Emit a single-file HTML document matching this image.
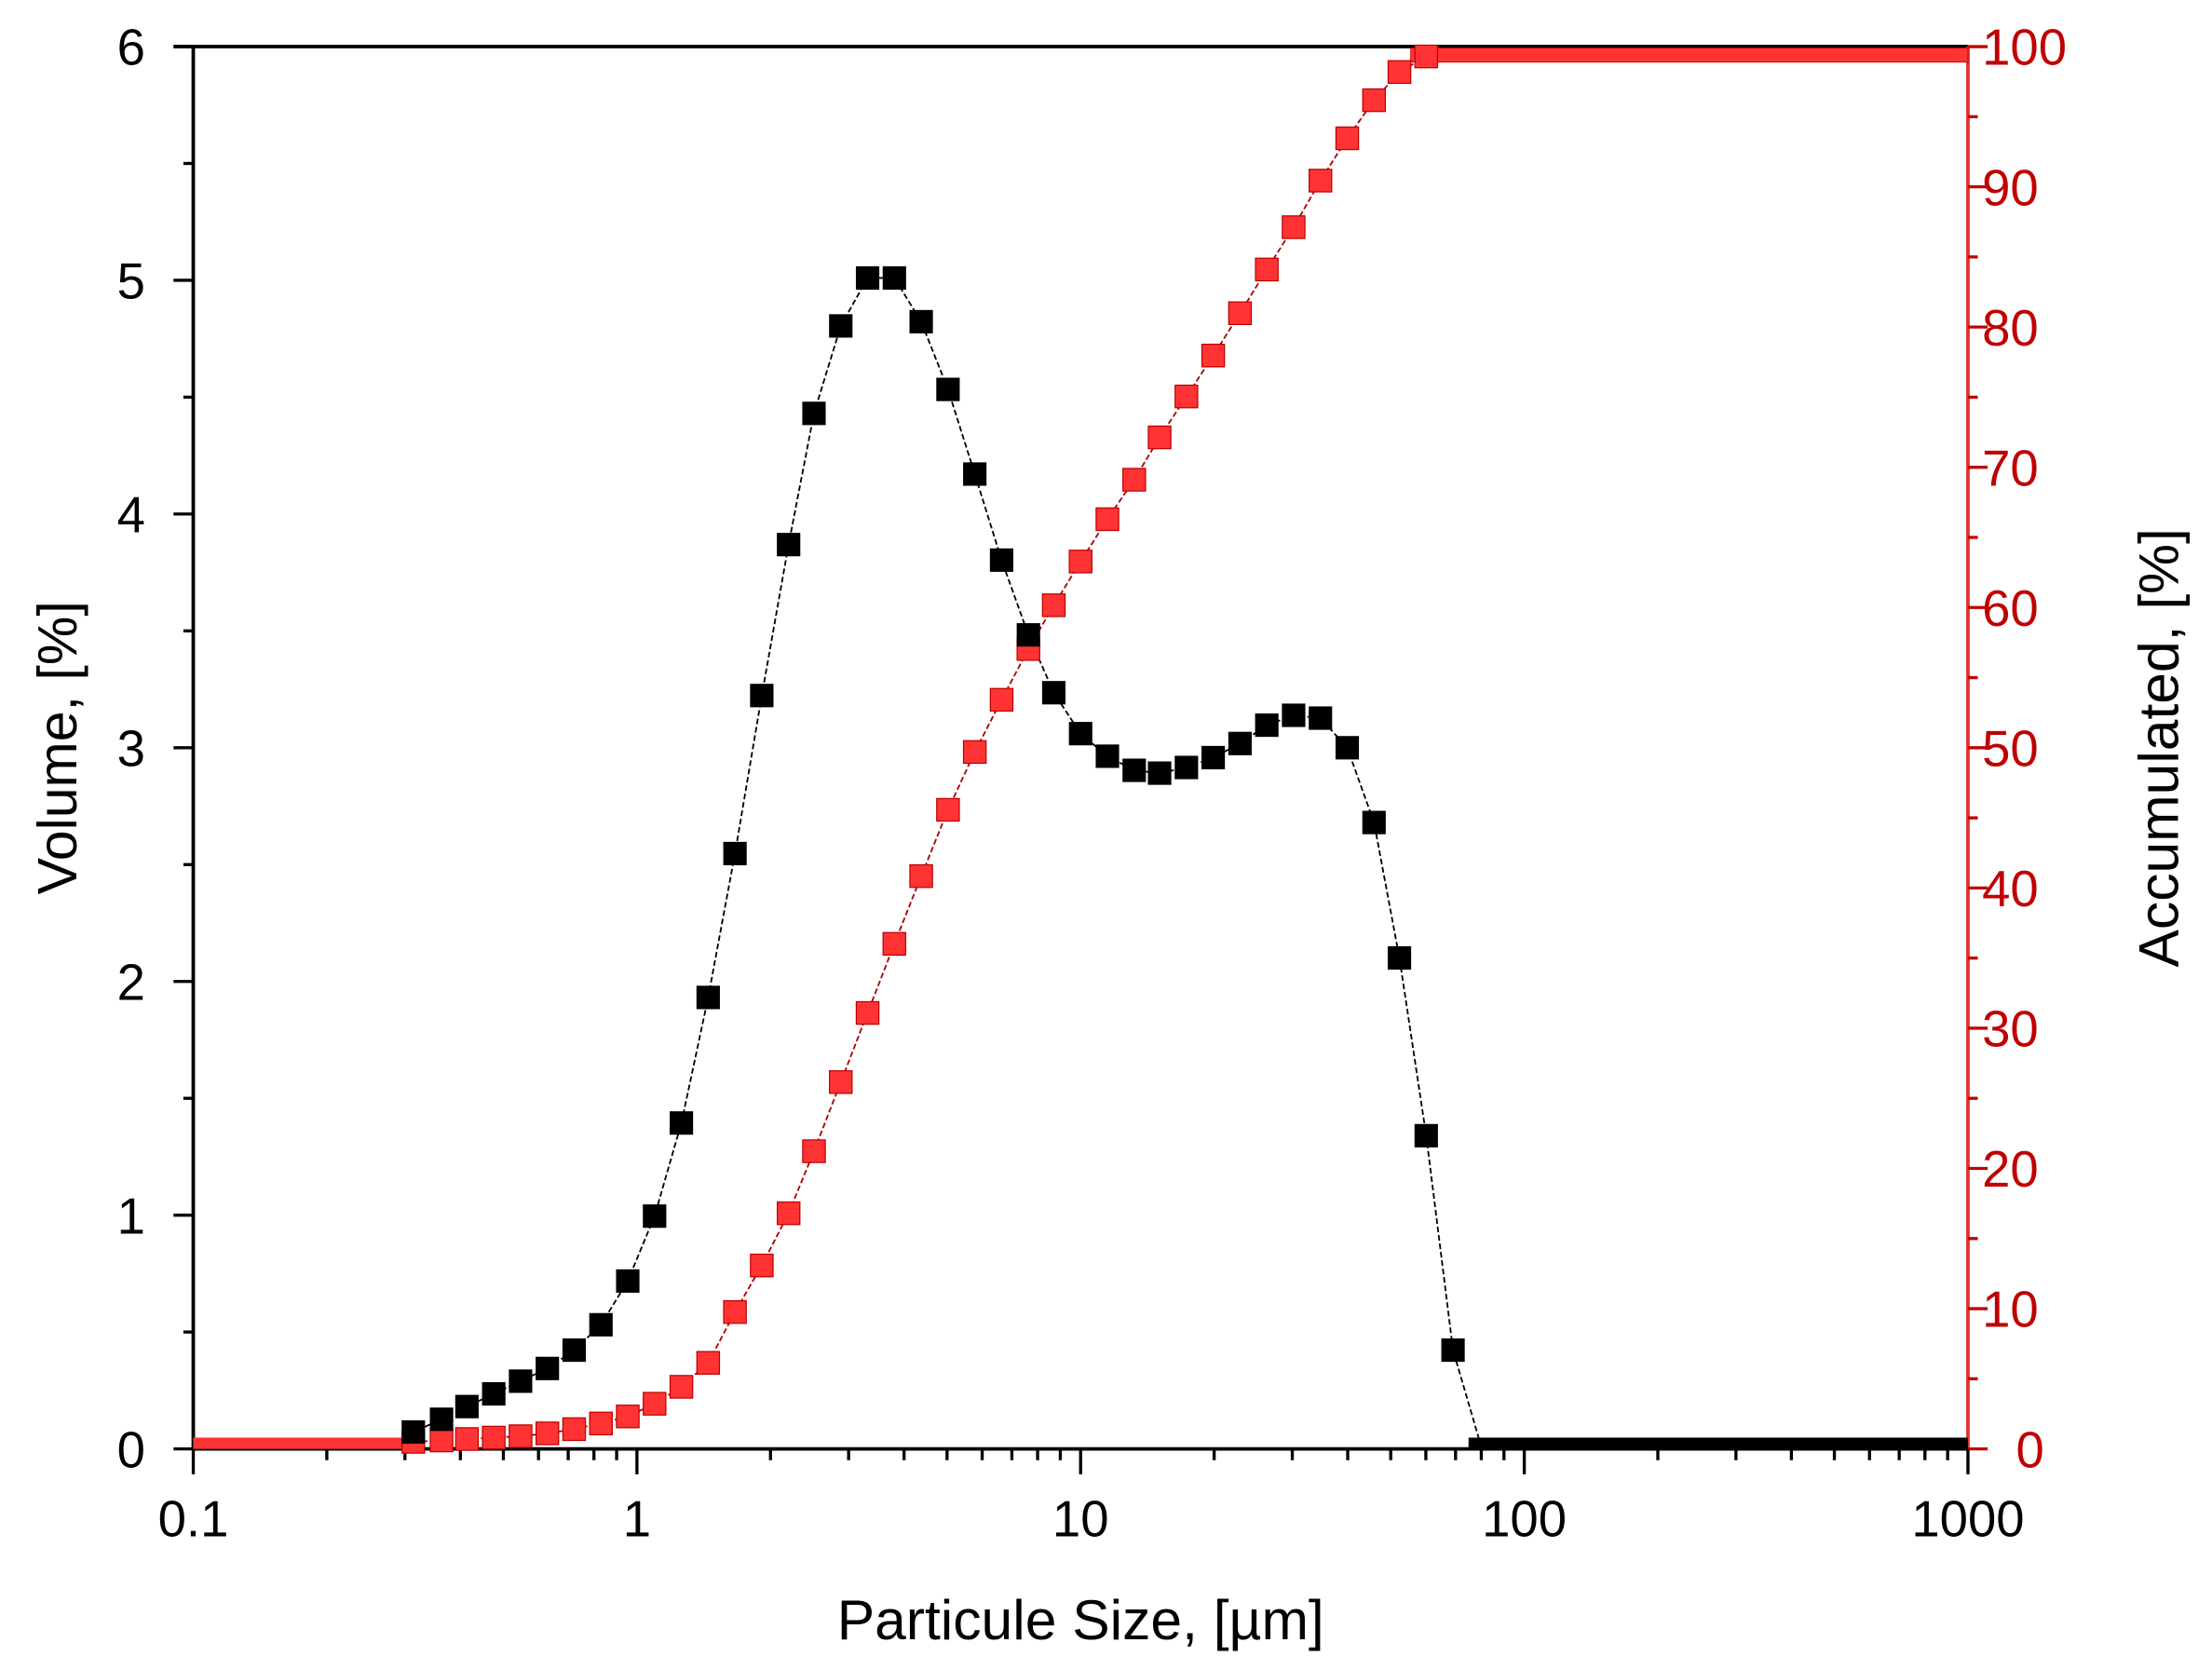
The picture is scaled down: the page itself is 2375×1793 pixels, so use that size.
<!DOCTYPE html>
<html><head><meta charset="utf-8"><style>
html,body{margin:0;padding:0;background:#fff}
svg{display:block}
text{font-family:"Liberation Sans",Arial,sans-serif}
</style></head><body>
<svg id="s" width="2375" height="1793" viewBox="0 0 1568 1183.7" xmlns="http://www.w3.org/2000/svg">
<g id="g"></g>
</svg>
<script>
const g=document.getElementById('g');
let h='';
const L=137,R=1395,T=33,B=1027;
const X=v=>L+(Math.log10(v)+1)*314.5;
h+=`<line x1="${L}" y1="${T}" x2="${L}" y2="${B}" stroke="#000" stroke-width="2.5"/>`;
h+=`<line x1="${L-14}" y1="${T}" x2="${R}" y2="${T}" stroke="#000" stroke-width="2.5"/>`;
h+=`<line x1="${L}" y1="${B}" x2="${R}" y2="${B}" stroke="#000" stroke-width="2.5"/>`;
h+=`<line x1="${R}" y1="${T}" x2="${R}" y2="${B}" stroke="#e03030" stroke-width="2.5"/>`;
for(let i=0;i<=12;i++){const y=B-(B-T)*i/12;const len=i%2?7:14;
 h+=`<line x1="${L-len}" y1="${y}" x2="${L}" y2="${y}" stroke="#000" stroke-width="2.2"/>`;
 if(i%2==0)h+=`<text x="${103}" y="${y+13}" font-size="36" text-anchor="end">${i/2}</text>`;}
for(let i=0;i<=20;i++){const y=B-(B-T)*i/20;const len=i%2?7:14;
 h+=`<line x1="${R}" y1="${y}" x2="${R+len}" y2="${y}" stroke="#c00000" stroke-width="2.2"/>`;
 if(i%2==0)h+=`<text x="${i==0?1429:1405}" y="${y+13}" font-size="36" fill="#c00000">${i*5}</text>`;}
for(let d=-1;d<=3;d++){for(let m=1;m<=9;m++){if(d==3&&m>1)break;const x=X(m*Math.pow(10,d));
 const len=m==1?18:8;h+=`<line x1="${x}" y1="${B}" x2="${x}" y2="${B+len}" stroke="#000" stroke-width="2.2"/>`;}
 h+=`<text x="${X(Math.pow(10,d))}" y="${1089}" font-size="36" text-anchor="middle">${[0.1,1,10,100,1000][d+1]}</text>`;}
h+=`<text x="${766}" y="${1162}" font-size="40" text-anchor="middle">Particule Size, [µm]</text>`;
h+=`<text transform="translate(54,530) rotate(-90)" font-size="39" text-anchor="middle">Volume, [%]</text>`;
h+=`<text transform="translate(1544,530) rotate(-90)" font-size="40" text-anchor="middle">Accumulated, [%]</text>`;
const bx=[293,313,331,350,369,388,407,426,445,464,483,502,521,540,559,577,596,615,634,653,672,691,710,729,747,766,785,804,822,841,860,879,898,917,936,955,974,992,1011,1030,1049];
const by=[1015,1006,997,988,979,970,957,939,908,862,796,707,605,493,386,293,231,197,197,228,276,336,397,450,491,520,536,546,548,544,537,527,514,507,509,530,583,679,805,957,1022];
const rx=[293,313,331,350,369,388,407,426,445,464,483,502,521,540,559,577,596,615,634,653,672,691,710,729,747,766,785,804,822,841,860,879,898,917,936,955,974,992,1011];
const ry=[1022,1021,1020,1019,1018,1016,1013,1009,1004,995,983,966,930,897,860,816,767,718,669,621,574,533,496,460,429,398,368,340,310,281,252,222,191,161,128,98,71,51,40];
const pl=(xs,ys,c)=>`<polyline fill="none" stroke="${c}" stroke-width="1.2" stroke-dasharray="4,2" points="${xs.map((x,i)=>x+','+ys[i]).join(' ')}"/>`;
h+=pl([L,275].concat(bx,[R]),[1026,1026].concat(by,[1026]),'#000');
h+=pl([L].concat(rx,[R]),[1022].concat(ry,[39]),'#a00');
// bands
h+=`<rect x="${L}" y="1019" width="${293-L}" height="8" fill="#f33"/>`;
h+=`<rect x="1000" y="34" width="${R-1000}" height="10" fill="#f33" stroke="#c00" stroke-width="0.6"/>`;
h+=`<rect x="1041" y="1019" width="${R-1041}" height="9" fill="#000"/>`;
rx.forEach((x,i)=>{h+=`<rect x="${x-8}" y="${ry[i]-8}" width="16" height="16" fill="#f33" stroke="#b00" stroke-width="0.8"/>`;});
bx.forEach((x,i)=>{if(i<bx.length-1)h+=`<rect x="${x-8.3}" y="${by[i]-8.3}" width="16.6" height="16.6" fill="#000"/>`;});
g.innerHTML=h;
</script>
</body></html>
